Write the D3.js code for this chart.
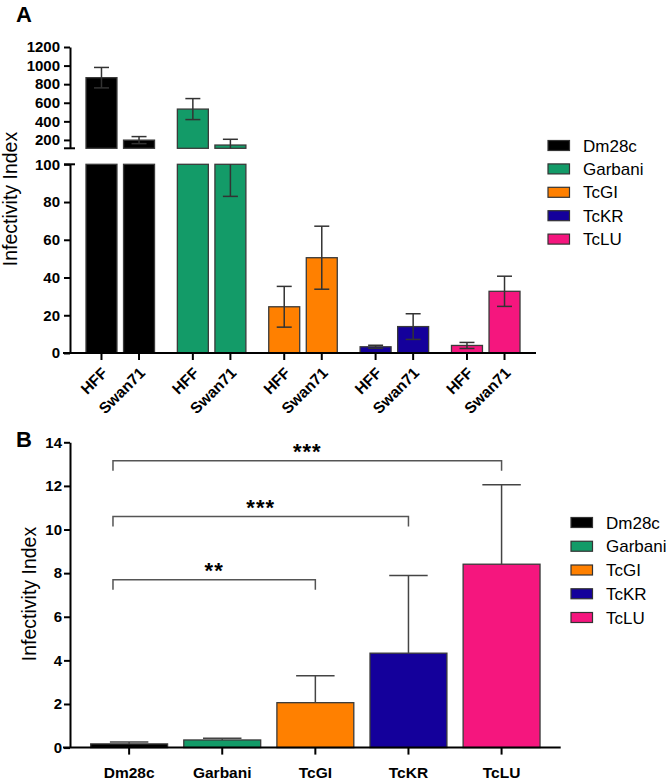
<!DOCTYPE html>
<html><head><meta charset="utf-8">
<script src="https://cdn.jsdelivr.net/npm/d3@7"></script>
<style>
body{margin:0;background:#fff}
svg{display:block}
text{font-family:"Liberation Sans", Arial, sans-serif; fill:#000}
</style>
</head><body>
<svg id="c" width="666" height="780"></svg>
<script>
// ---------- data ----------
const strains = ["Dm28c","Garbani","TcGI","TcKR","TcLU"];
const cells = ["HFF","Swan71"];
const hffMean = [870, 532, 24.5, 3.3, 4.0];
const hffSD   = [110, 113, 10.8, 0.8, 1.6];
const swanMean = [198, 145, 50.5, 14.0, 32.7];
const swanSD   = [38, 62, 16.7, 6.8, 8.0];
const ticksLowA  = [0,20,40,60,80,100];
const ticksHighA = [200,400,600,800,1000,1200];
const meanB = [0.17, 0.35, 2.06, 4.33, 8.41];
const sdB   = [0.09, 0.08, 1.24, 3.56, 3.64];
const ticksB = [0,2,4,6,8,10,12,14];
const compA = ["Dm28c","Dm28c","Dm28c"];
const compB = ["TcLU","TcKR","TcGI"];
const compLevel = [13.15, 10.6, 7.7];
const compLabel = ["***","***","**"];
const colors = ["#000000","#139b68","#ff8000","#14009b","#f5167e"];

const svg = d3.select("#c");
const color = d3.scaleOrdinal().domain(strains).range(colors);
const fmt = d3.format("d");

// ---------- Panel A ----------
const gA = svg.append("g");
const xg = d3.scaleBand().domain(strains).range([70,536]).paddingInner(0.25).paddingOuter(0.175);
const xc = d3.scaleBand().domain(cells).range([0, xg.bandwidth()]).paddingInner(0.175);
const yLow = d3.scaleLinear().domain([0,100]).range([353,164.3]);
const yHigh = d3.scaleLinear().domain([110,1200]).range([148.3,47]);

const dataA = [];
strains.forEach((s,i)=>{
  dataA.push({s, c:"HFF", m:hffMean[i], sd:hffSD[i]});
  dataA.push({s, c:"Swan71", m:swanMean[i], sd:swanSD[i]});
});
const cx = d => xg(d.s) + xc(d.c) + xc.bandwidth()/2;

gA.selectAll("rect.low").data(dataA).join("rect").attr("class","low")
  .attr("x", d=>xg(d.s)+xc(d.c)).attr("width", xc.bandwidth())
  .attr("y", d=>yLow(Math.min(d.m,100))).attr("height", d=>yLow(0)-yLow(Math.min(d.m,100)))
  .attr("fill", d=>color(d.s)).attr("stroke","#3a3a3a").attr("stroke-width",1.3);
gA.selectAll("rect.high").data(dataA.filter(d=>d.m>110)).join("rect").attr("class","high")
  .attr("x", d=>xg(d.s)+xc(d.c)).attr("width", xc.bandwidth())
  .attr("y", d=>yHigh(d.m)).attr("height", d=>yHigh(110)-yHigh(d.m))
  .attr("fill", d=>color(d.s)).attr("stroke","#3a3a3a").attr("stroke-width",1.3);

const capA = 15;
dataA.forEach(d=>{
  const lo = d.m - d.sd, hi = d.m + d.sd, x = cx(d);
  const segs = [[yLow,0,100],[yHigh,110,1200]];
  segs.forEach(([sc,a,b])=>{
    const l = Math.max(lo,a), h = Math.min(hi,b);
    if (h>l) gA.append("line").attr("x1",x).attr("x2",x).attr("y1",sc(l)).attr("y2",sc(h))
      .attr("stroke","#333").attr("stroke-width",1.5);
  });
  [lo,hi].forEach(v=>{
    const sc = v<=100 ? yLow : (v>=110 ? yHigh : null);
    if (sc) gA.append("line").attr("x1",x-capA/2).attr("x2",x+capA/2).attr("y1",sc(v)).attr("y2",sc(v))
      .attr("stroke","#333").attr("stroke-width",1.5);
  });
});

function styleAxis(g){
  g.select(".domain").attr("stroke","#000").attr("stroke-width",2);
  g.selectAll(".tick line").attr("stroke","#000").attr("stroke-width",2);
  g.selectAll(".tick text").attr("font-size",15).attr("font-weight","bold")
   .style("font-family",'"Liberation Sans", Arial, sans-serif');
}
const axLow = gA.append("g").attr("transform","translate(70,0)")
  .call(d3.axisLeft(yLow).tickValues(ticksLowA).tickFormat(fmt).tickSize(6).tickSizeOuter(0).tickPadding(4));
styleAxis(axLow);
const axHigh = gA.append("g").attr("transform","translate(70,0)")
  .call(d3.axisLeft(yHigh).tickValues(ticksHighA).tickFormat(fmt).tickSize(6).tickSizeOuter(0).tickPadding(4));
styleAxis(axHigh);
[yHigh(110), yLow(100)].forEach(y=>{
  gA.append("line").attr("x1",64).attr("x2",75).attr("y1",y).attr("y2",y)
    .attr("stroke","#000").attr("stroke-width",2);
});

gA.append("line").attr("x1",63).attr("x2",536).attr("y1",yLow(0)).attr("y2",yLow(0))
  .attr("stroke","#000").attr("stroke-width",2);
gA.selectAll("line.xt").data(dataA).join("line").attr("class","xt")
  .attr("x1",cx).attr("x2",cx).attr("y1",yLow(0)).attr("y2",yLow(0)+7)
  .attr("stroke","#000").attr("stroke-width",2);
gA.selectAll("text.xl").data(dataA).join("text").attr("class","xl")
  .attr("transform", d=>`translate(${cx(d)+7},${yLow(0)+21}) rotate(-45)`)
  .attr("text-anchor","end").attr("font-size",15.5).attr("font-weight","bold")
  .text(d=>d.c);

gA.append("text").attr("transform","translate(17,199) rotate(-90)")
  .attr("text-anchor","middle").attr("font-size",19.5).text("Infectivity Index");
svg.append("text").attr("x",16).attr("y",22).attr("font-size",22).attr("font-weight","bold").text("A");

function legend(g, x0, y0, step){
  const it = g.selectAll("g.leg").data(strains).join("g").attr("class","leg")
    .attr("transform",(d,i)=>`translate(${x0},${y0+i*step})`);
  it.append("rect").attr("x",0).attr("y",-5).attr("width",21.5).attr("height",10)
    .attr("fill",d=>color(d)).attr("stroke","#333").attr("stroke-width",1.2);
  it.append("text").attr("x",35).attr("y",0).attr("dy","0.36em").attr("font-size",17).text(d=>d);
}
legend(svg.append("g"), 548, 145.5, 23.4);

// ---------- Panel B ----------
const gB = svg.append("g");
const xB = d3.scaleBand().domain(strains).range([70,560.7]).paddingInner(0.174).paddingOuter(0.222);
const yB = d3.scaleLinear().domain([0,14]).range([747.6,442.3]);
const dataB = strains.map((s,i)=>({s, m:meanB[i], sd:sdB[i]}));
const cxB = d => xB(d.s) + xB.bandwidth()/2;

gB.selectAll("rect").data(dataB).join("rect")
  .attr("x", d=>xB(d.s)).attr("width", xB.bandwidth())
  .attr("y", d=>yB(d.m)).attr("height", d=>yB(0)-yB(d.m))
  .attr("fill", d=>color(d.s)).attr("stroke","#3a3a3a").attr("stroke-width",1.3);
const capB = xB.bandwidth()/2;
gB.selectAll("line.ev").data(dataB).join("line").attr("class","ev")
  .attr("x1",cxB).attr("x2",cxB).attr("y1",d=>yB(d.m)).attr("y2",d=>yB(d.m+d.sd))
  .attr("stroke","#444").attr("stroke-width",1.5);
gB.selectAll("line.ec").data(dataB).join("line").attr("class","ec")
  .attr("x1",d=>cxB(d)-capB/2).attr("x2",d=>cxB(d)+capB/2)
  .attr("y1",d=>yB(d.m+d.sd)).attr("y2",d=>yB(d.m+d.sd))
  .attr("stroke","#444").attr("stroke-width",1.5);

const axB = gB.append("g").attr("transform","translate(70,0)")
  .call(d3.axisLeft(yB).tickValues(ticksB).tickFormat(fmt).tickSize(6).tickSizeOuter(0).tickPadding(2));
styleAxis(axB);
gB.append("line").attr("x1",63).attr("x2",560.7).attr("y1",yB(0)).attr("y2",yB(0))
  .attr("stroke","#000").attr("stroke-width",2);
gB.selectAll("line.xt").data(dataB).join("line").attr("class","xt")
  .attr("x1",cxB).attr("x2",cxB).attr("y1",yB(0)).attr("y2",yB(0)+7)
  .attr("stroke","#000").attr("stroke-width",2);
gB.selectAll("text.xl").data(dataB).join("text").attr("class","xl")
  .attr("x",cxB).attr("y",778).attr("text-anchor","middle")
  .attr("font-size",15.5).attr("font-weight","bold").text(d=>d.s);

const comps = compA.map((a,i)=>({a, b:compB[i], lv:compLevel[i], lab:compLabel[i]}));
comps.forEach(c=>{
  const x1 = xB(c.a) + xB.bandwidth()*0.29;
  const x2 = xB(c.b) + xB.bandwidth()/2;
  const y = yB(c.lv);
  gB.append("path").attr("d",`M${x1},${y+10}V${y}H${x2}V${y+10}`)
    .attr("fill","none").attr("stroke","#555").attr("stroke-width",1.5);
  gB.append("text").attr("x",(x1+x2)/2).attr("y",y-1.5).attr("text-anchor","middle")
    .attr("font-size",22).attr("font-weight","bold").attr("letter-spacing",1).text(c.lab);
});

gB.append("text").attr("transform","translate(36,594) rotate(-90)")
  .attr("text-anchor","middle").attr("font-size",19.5).text("Infectivity Index");
svg.append("text").attr("x",16).attr("y",447).attr("font-size",22).attr("font-weight","bold").text("B");
legend(svg.append("g"), 571, 522.5, 23.75);
</script>
</body></html>
